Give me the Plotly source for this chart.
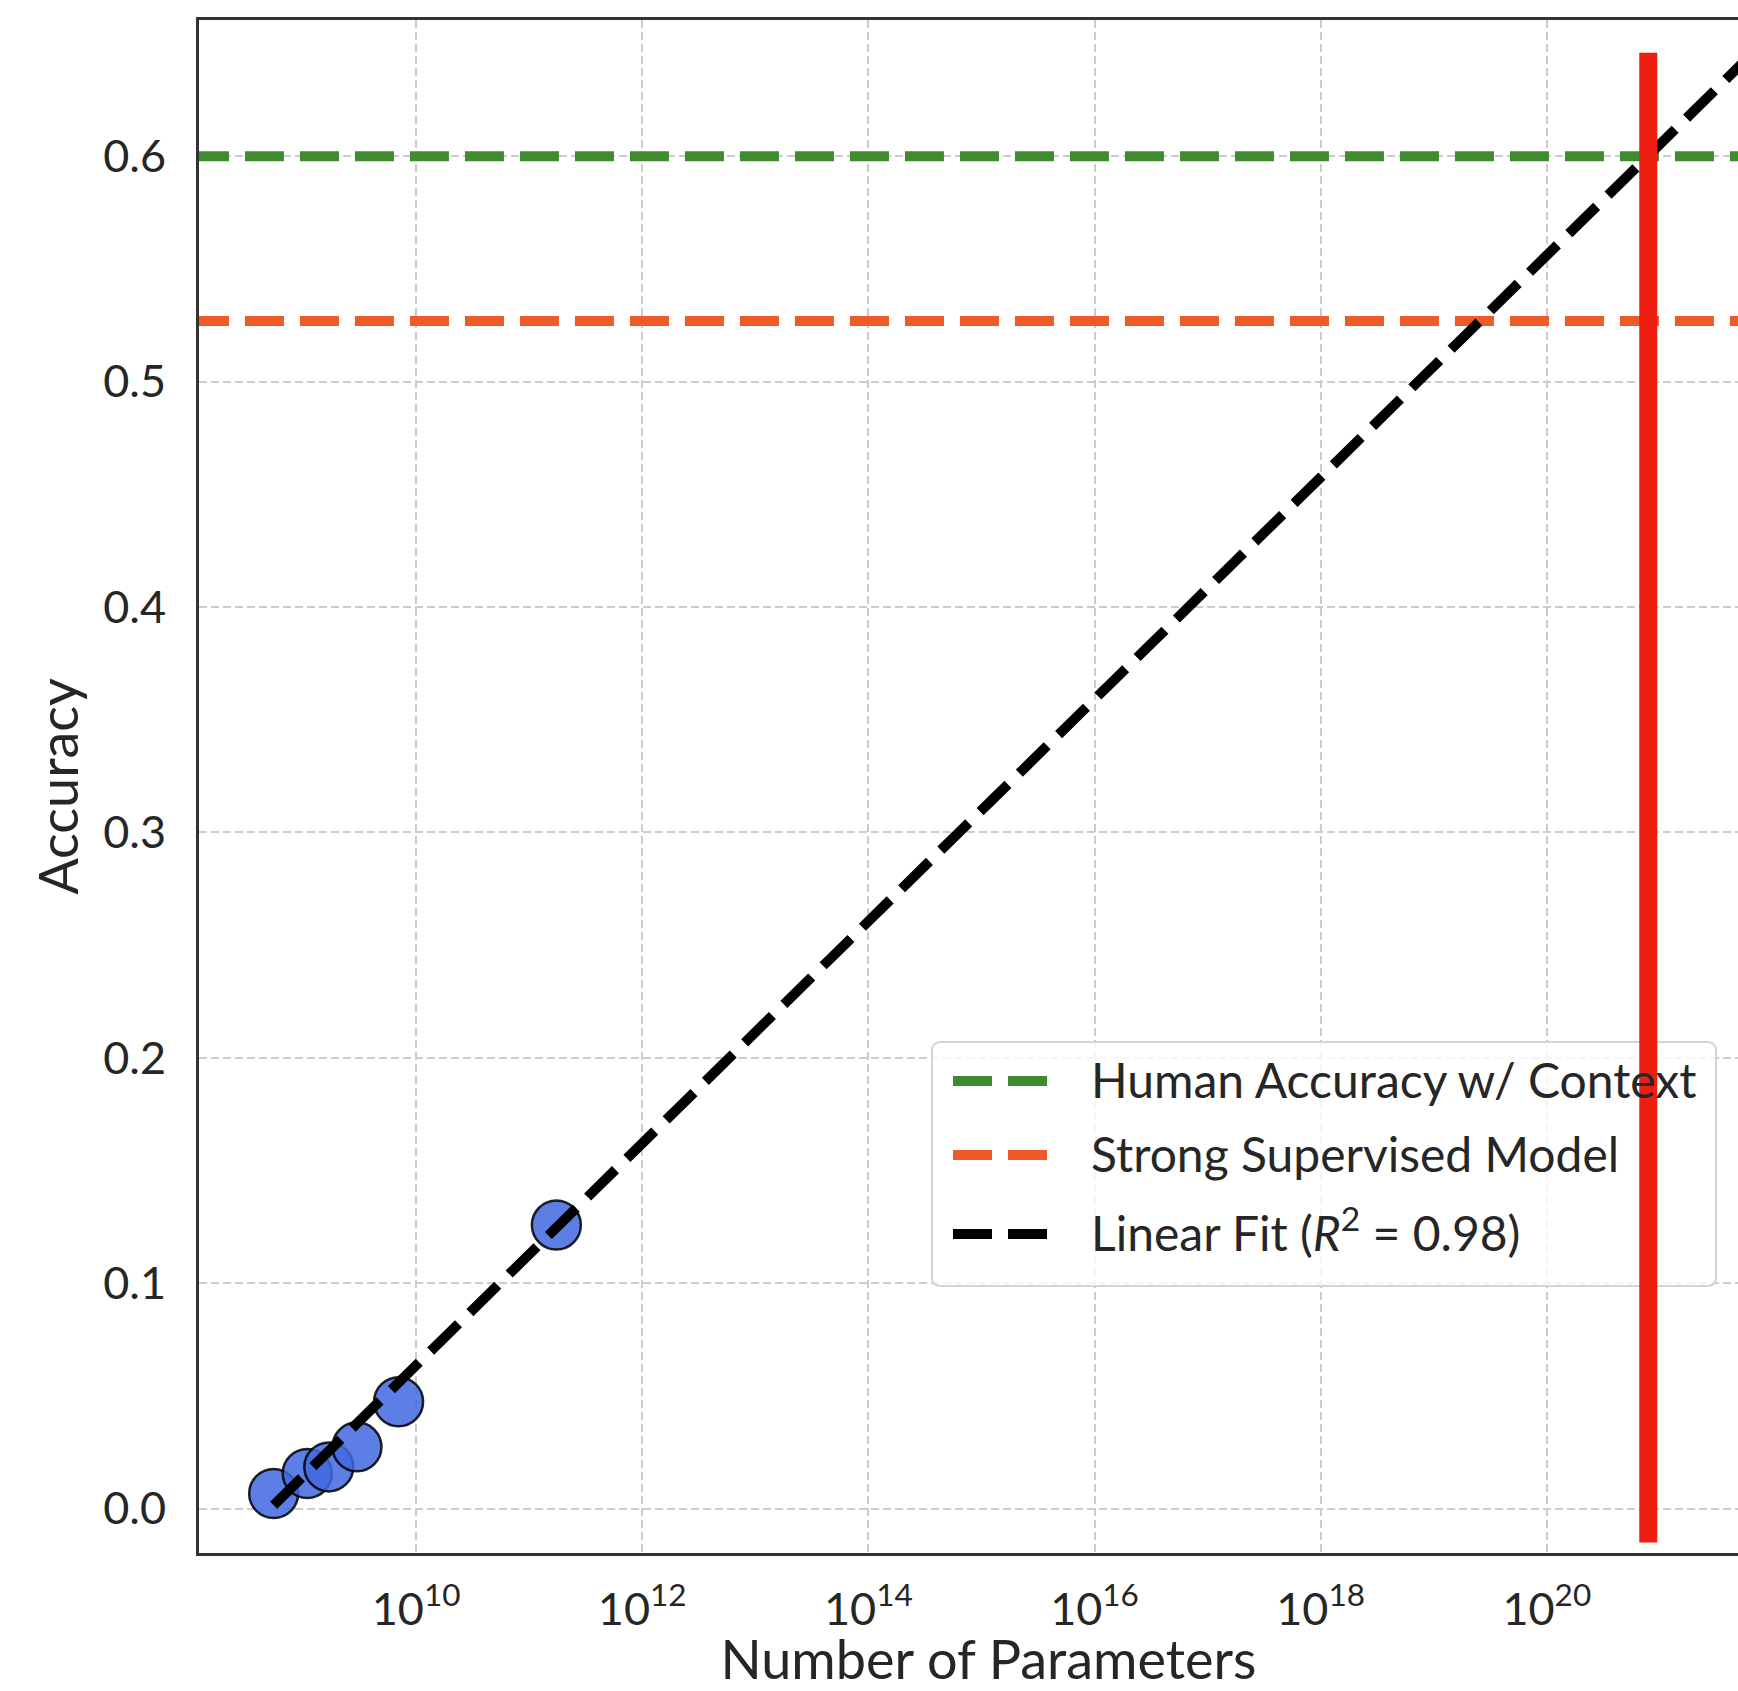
import plotly.graph_objects as go

# ---------------- data ----------------
params = [5.5e8, 1.09e9, 1.69e9, 3.0e9, 7.0e9, 1.74e11]
accuracy = [0.0067, 0.0156, 0.0185, 0.0274, 0.0474, 0.1258]

fit_params = [5.5e8, 1.0e22]
fit_accuracy = [0.0015, 0.6546]

human_acc = 0.600
supervised_acc = 0.527
hline_span = [1.0e8, 1.0e23]

cross_param = 7.9e20
cross_span = [-0.015, 0.646]

x_tick_exps = [10, 12, 14, 16, 18, 20]
y_ticks = [0.0, 0.1, 0.2, 0.3, 0.4, 0.5, 0.6]
y_tick_text = ["0.0", "0.1", "0.2", "0.3", "0.4", "0.5", "0.6"]

legend_labels = [
    "Human Accuracy w/ Context",
    "Strong Supervised Model",
    "Linear Fit (<i>R</i><sup>2</sup> = 0.98)",
]

# ---------------- styling ----------------
# The reference is a crop: its axes run past the right edge of the picture.
W, H = 1778, 1691
L, R, T, B = 199, 0, 20, 138
PW, PH = W - L - R, H - T - B

GREEN = "#3e8b30"
ORANGE = "#ee5a28"
RED = "#ee1e10"
BLUE = "rgba(65,105,225,0.85)"
TEXT = "#262626"
FONT = "Lato, 'Open Sans', sans-serif"
DASH = "39px,16px"


def dx(px):
    return (px - L) / PW


def dy(py):
    return (H - B - py) / PH


fig = go.Figure()

for val, col in [(human_acc, GREEN), (supervised_acc, ORANGE)]:
    fig.add_trace(go.Scatter(
        x=hline_span, y=[val, val], mode="lines", showlegend=False, hoverinfo="skip",
        line=dict(color=col, width=10, dash=DASH),
    ))

fig.add_trace(go.Scatter(
    x=params, y=accuracy, mode="markers", showlegend=False,
    marker=dict(size=49, color=BLUE, line=dict(color="rgba(0,0,0,0.85)", width=2.5)),
))
fig.add_trace(go.Scatter(
    x=fit_params, y=fit_accuracy, mode="lines", showlegend=False, hoverinfo="skip",
    line=dict(color="black", width=10, dash=DASH),
))

shapes = []
# legend box (rounded)
bx0, bx1, by0, by1, r = 932, 1716, 1042, 1286, 9
p = [
    f"M {dx(bx0 + r)},{dy(by0)}",
    f"L {dx(bx1 - r)},{dy(by0)}",
    f"Q {dx(bx1)},{dy(by0)} {dx(bx1)},{dy(by0 + r)}",
    f"L {dx(bx1)},{dy(by1 - r)}",
    f"Q {dx(bx1)},{dy(by1)} {dx(bx1 - r)},{dy(by1)}",
    f"L {dx(bx0 + r)},{dy(by1)}",
    f"Q {dx(bx0)},{dy(by1)} {dx(bx0)},{dy(by1 - r)}",
    f"L {dx(bx0)},{dy(by0 + r)}",
    f"Q {dx(bx0)},{dy(by0)} {dx(bx0 + r)},{dy(by0)} Z",
]
shapes.append(dict(type="path", xref="paper", yref="paper", path=" ".join(p),
                   layer="above", fillcolor="rgba(255,255,255,0.8)",
                   line=dict(color="#d4d4d4", width=2)))

rows = [1081, 1155, 1234]
text_rows = [1079, 1153, 1229]
cols = [GREEN, ORANGE, "black"]
annotations = []
for row, trow, col, lab in zip(rows, text_rows, cols, legend_labels):
    shapes.append(dict(type="line", xref="paper", yref="paper",
                       x0=dx(953), x1=dx(1047), y0=dy(row), y1=dy(row),
                       layer="above", line=dict(color=col, width=10, dash=DASH)))
    annotations.append(dict(xref="paper", yref="paper", x=dx(1089), y=dy(trow),
                            xanchor="left", yanchor="middle", showarrow=False,
                            text=lab, font=dict(family=FONT, size=48, color=TEXT)))

# red vertical marker line (drawn on top of everything, like the reference)
shapes.append(dict(type="line", xref="x", yref="y",
                   x0=cross_param, x1=cross_param, y0=cross_span[0], y1=cross_span[1],
                   layer="above", line=dict(color=RED, width=18)))

fig.update_layout(
    width=W, height=H, autosize=False,
    margin=dict(l=L, r=R, t=T, b=B, pad=0),
    paper_bgcolor="white", plot_bgcolor="white",
    font=dict(family=FONT, color=TEXT),
    showlegend=False,
    shapes=shapes, annotations=annotations,
    xaxis=dict(
        type="log", range=[8.080, 22.045], automargin=False,
        tickvals=[10.0 ** e for e in x_tick_exps],
        ticktext=[f"10<sup>{e}</sup>" for e in x_tick_exps],
        tickfont=dict(size=45, color=TEXT), ticks="", ticklabelstandoff=15,
        showgrid=True, gridcolor="#cccccc", gridwidth=2, griddash="8px,4px",
        zeroline=False, showline=True, linecolor="#333333", linewidth=3, mirror=True,
        title=dict(text="Number of Parameters", font=dict(size=54, color=TEXT), standoff=33),
    ),
    yaxis=dict(
        range=[-0.0197, 0.6605], automargin=False,
        tickvals=y_ticks, ticktext=y_tick_text,
        tickfont=dict(size=45, color=TEXT), ticks="", ticklabelstandoff=21,
        showgrid=True, gridcolor="#cccccc", gridwidth=2, griddash="8px,4px",
        zeroline=False, showline=True, linecolor="#333333", linewidth=3, mirror=False,
        title=dict(text="Accuracy", font=dict(size=54, color=TEXT), standoff=8),
    ),
)

page_css = (
    "document.documentElement.style.margin='0px';"
    "document.body.style.margin='0px';"
    "document.documentElement.style.overflow='hidden';"
    "document.body.style.overflow='hidden';"
)
fig.write_html("out.html", post_script=page_css, config={"displayModeBar": False})
